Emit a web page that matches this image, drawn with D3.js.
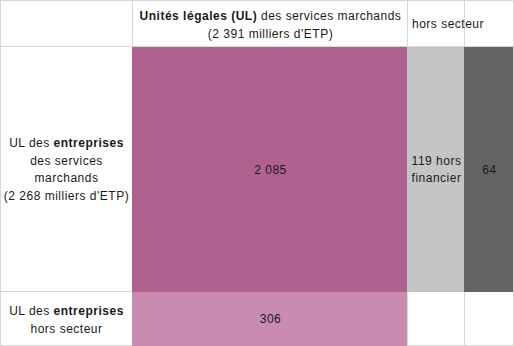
<!DOCTYPE html>
<html><head><meta charset="utf-8">
<script src="https://cdn.jsdelivr.net/npm/d3@7"></script>
<style>
html,body{margin:0;padding:0;background:#fff;}
svg{display:block;font-family:"Liberation Sans",Arial,sans-serif;font-size:12px;letter-spacing:0.5px;}
</style></head>
<body><div id="chart"></div>
<script>
// ---- data ----
const columnKeys = ["label", "services", "horsFin", "horsAutre"];
const rowKeys = ["header", "entreprisesSM", "entreprisesHS"];
const cellKeys = ["sm_sm", "sm_hsf", "sm_hs", "hs_sm"];
const cellRows = ["entreprisesSM", "entreprisesSM", "entreprisesSM", "entreprisesHS"];
const cellCols = ["services", "horsFin", "horsAutre", "services"];
const cellValues = [2085, 119, 64, 306];
const cellLabels = [["2 085"], ["119 hors", "financier"], ["64"], ["306"]];
const headerTotal = "2 391";
const rowTotal = "2 268";

// ---- layout ----
const W = 514, H = 346;
const colEdges = [0, 132, 407, 464, 513];
const rowEdges = [0, 46, 291, 345];
const colors = {sm_sm: "#b0628f", sm_hsf: "#c5c5c5", sm_hs: "#646464", hs_sm: "#ca8bb1"};
const gridColor = "#d6d6d6";
const textColor = "#1a1a1a";

const x = d3.scaleOrdinal().domain(columnKeys).range(colEdges.slice(0, 4));
const xEnd = d3.scaleOrdinal().domain(columnKeys).range(colEdges.slice(1));
const y = d3.scaleOrdinal().domain(rowKeys).range(rowEdges.slice(0, 3));
const yEnd = d3.scaleOrdinal().domain(rowKeys).range(rowEdges.slice(1));

const svg = d3.select("#chart").append("svg").attr("width", W).attr("height", H);

// grid lines
const g = svg.append("g").attr("stroke", gridColor).attr("stroke-width", 1).attr("shape-rendering", "crispEdges");
colEdges.forEach(cx => g.append("line").attr("x1", cx + 0.5).attr("x2", cx + 0.5).attr("y1", 0).attr("y2", rowEdges[3] + 1));
rowEdges.forEach(ry => g.append("line").attr("x1", 0).attr("x2", colEdges[4] + 1).attr("y1", ry + 0.5).attr("y2", ry + 0.5));

// cells
const cells = cellKeys.map((k, i) => ({key: k, row: cellRows[i], col: cellCols[i], value: cellValues[i], label: cellLabels[i]}));
svg.append("g").attr("shape-rendering", "crispEdges").selectAll("rect").data(cells).join("rect")
  .attr("x", d => x(d.col))
  .attr("y", d => y(d.row) + 1)
  .attr("width", d => xEnd(d.col) - x(d.col))
  .attr("height", d => yEnd(d.row) - y(d.row))
  .attr("fill", d => colors[d.key]);

// cell labels
const lh = 17.5;
svg.append("g").selectAll("text").data(cells).join("text")
  .attr("text-anchor", "middle").attr("fill", textColor)
  .attr("x", d => (x(d.col) + xEnd(d.col)) / 2 + 1)
  .attr("y", d => (y(d.row) + yEnd(d.row)) / 2 + 5 - (d.label.length - 1) * lh / 2)
  .each(function(d) {
    const t = d3.select(this);
    d.label.forEach((s, i) => t.append("tspan").attr("x", t.attr("x")).attr("dy", i ? lh : 0).text(s));
  });

// header labels
const cx1 = (x("services") + xEnd("services")) / 2 + 1;
const h1 = svg.append("text").attr("text-anchor", "middle").attr("fill", textColor).attr("x", cx1).attr("y", 20);
h1.append("tspan").attr("font-weight", "bold").text("Unités légales (UL)");
h1.append("tspan").text(" des services marchands");
svg.append("text").attr("text-anchor", "middle").attr("fill", textColor).attr("x", cx1).attr("y", 37.5)
  .text(`(${headerTotal} milliers d'ETP)`);
svg.append("text").attr("fill", textColor).attr("x", x("horsFin") + 5).attr("y", 28).text("hors secteur");

// row labels
const lx = (x("label") + xEnd("label")) / 2 + 0.5;
function rowLabel(lines, y0) {
  lines.forEach((parts, i) => {
    const t = svg.append("text").attr("text-anchor", "middle").attr("fill", textColor).attr("x", lx).attr("y", y0 + i * lh);
    parts.forEach(p => t.append("tspan").attr("font-weight", p[1] ? "bold" : null).text(p[0]));
  });
}
rowLabel([[["UL des "], ["entreprises", 1]], [["des services"]], [["marchands"]], [[`(${rowTotal} milliers d'ETP)`]]], 147);
rowLabel([[["UL des "], ["entreprises", 1]], [["hors secteur"]]], 315);
</script>
</body></html>
